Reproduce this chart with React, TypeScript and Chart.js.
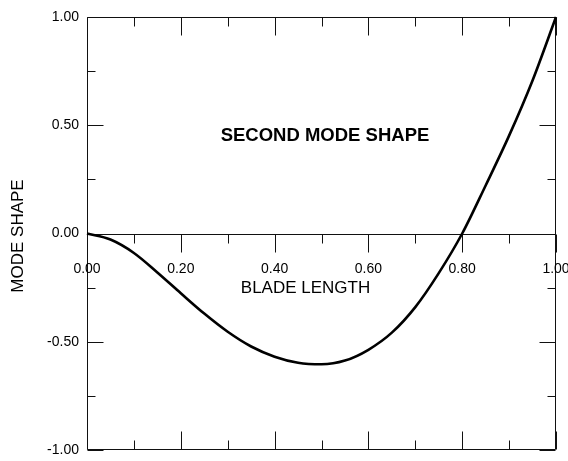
import React, { useEffect, useRef } from "react";
import { Chart, registerables } from "chart.js";

Chart.register(...registerables);

// Blade length positions (fraction of span)
const bladeLength = [
  0.0, 0.05, 0.1, 0.15, 0.2, 0.25, 0.3, 0.35, 0.4, 0.45, 0.5,
  0.55, 0.6, 0.65, 0.7, 0.75, 0.8, 0.85, 0.9, 0.95, 1.0,
];
// Second mode shape values
const modeShape = [
  0.0, -0.028, -0.09, -0.18, -0.276, -0.37, -0.454, -0.522, -0.569, -0.597, -0.604,
  -0.587, -0.537, -0.458, -0.34, -0.183, 0.0, 0.222, 0.452, 0.707, 1.0,
];

const xMajorTicks = [0, 0.2, 0.4, 0.6, 0.8, 1.0];
const xMinorTicks = [0.1, 0.3, 0.5, 0.7, 0.9];
const xTickLabels = ["0.00", "0.20", "0.40", "0.60", "0.80", "1.00"];
const yMajorTicks = [1.0, 0.5, 0.0, -0.5, -1.0];
const yMinorTicks = [0.75, 0.25, -0.25, -0.75];
const yTickLabels = ["1.00", "0.50", "0.00", "-0.50", "-1.00"];

const chartTitle = "SECOND MODE SHAPE";
const xTitle = "BLADE LENGTH";
const yTitle = "MODE SHAPE";

const FONT = "'Liberation Sans', Arial, Helvetica, sans-serif";

const framePlugin = {
  id: "framePlugin",
  beforeDatasetsDraw(chart: any) {
    const ctx = chart.ctx;
    const xs = chart.scales.x;
    const ys = chart.scales.y;
    const { left, right, top, bottom } = chart.chartArea;
    const px = (v: number) => Math.round(xs.getPixelForValue(v)) + 0.5;
    const py = (v: number) => Math.round(ys.getPixelForValue(v)) + 0.5;
    const L = Math.round(left) + 0.5;
    const R = Math.round(right) - 0.5;
    const T = Math.round(top) + 0.5;
    const B = Math.round(bottom) - 0.5;
    const zero = py(0);
    ctx.save();
    ctx.strokeStyle = "#111";
    ctx.lineWidth = 1;
    ctx.beginPath();
    ctx.rect(L, T, R - L, B - T);
    ctx.moveTo(L, zero);
    ctx.lineTo(R, zero);
    const xTick = (v: number, len: number) => {
      const x = px(v);
      ctx.moveTo(x, T);
      ctx.lineTo(x, T + len);
      ctx.moveTo(x, B);
      ctx.lineTo(x, B - len);
      ctx.moveTo(x, zero);
      ctx.lineTo(x, zero + len);
    };
    xMajorTicks.forEach((v) => xTick(v, 18));
    xMinorTicks.forEach((v) => xTick(v, 9));
    const yTick = (v: number, len: number) => {
      const y = py(v);
      ctx.moveTo(L, y);
      ctx.lineTo(L + len, y);
      ctx.moveTo(R, y);
      ctx.lineTo(R - len, y);
    };
    yMajorTicks.forEach((v) => yTick(v, 16));
    yMinorTicks.forEach((v) => yTick(v, 8));
    ctx.stroke();
    ctx.restore();
  },
  afterDraw(chart: any) {
    const ctx = chart.ctx;
    const xs = chart.scales.x;
    const ys = chart.scales.y;
    ctx.save();
    ctx.fillStyle = "#000";
    ctx.font = `14px ${FONT}`;
    ctx.textAlign = "right";
    ctx.textBaseline = "middle";
    yMajorTicks.forEach((v, i) => {
      ctx.fillText(yTickLabels[i], 79, ys.getPixelForValue(v));
    });
    ctx.textAlign = "center";
    const zeroY = ys.getPixelForValue(0);
    xMajorTicks.forEach((v, i) => {
      ctx.fillText(xTickLabels[i], xs.getPixelForValue(v), zeroY + 36);
    });
    ctx.font = `17px ${FONT}`;
    ctx.fillText(xTitle, 305.5, zeroY + 55);
    ctx.save();
    ctx.translate(18.5, 236);
    ctx.rotate(-Math.PI / 2);
    ctx.fillText(yTitle, 0, 0);
    ctx.restore();
    ctx.font = `bold 18.5px ${FONT}`;
    ctx.fillText(chartTitle, 325, 136);
    ctx.restore();
  },
};

export default function App() {
  const canvasRef = useRef<HTMLCanvasElement | null>(null);

  useEffect(() => {
    if (!canvasRef.current) return;
    const chart = new Chart(canvasRef.current, {
      type: "line",
      data: {
        datasets: [
          {
            data: bladeLength.map((x, i) => ({ x, y: modeShape[i] })),
            borderColor: "#000",
            borderWidth: 2.6,
            pointRadius: 0,
            cubicInterpolationMode: "monotone",
            fill: false,
            clip: 4,
          },
        ],
      },
      options: {
        responsive: false,
        animation: false,
        layout: { padding: { left: 87, right: 12, top: 17, bottom: 11 } },
        plugins: {
          legend: { display: false },
          tooltip: { enabled: false },
          title: { display: false },
        },
        scales: {
          x: { type: "linear", min: 0, max: 1, display: false },
          y: { type: "linear", min: -1, max: 1, display: false },
        },
      },
      plugins: [framePlugin],
    });
    return () => chart.destroy();
  }, []);

  return (
    <div style={{ position: "absolute", left: 0, top: 0, width: 568, height: 461, background: "#fff" }}>
      <canvas ref={canvasRef} width={568} height={461} style={{ display: "block" }} />
    </div>
  );
}
